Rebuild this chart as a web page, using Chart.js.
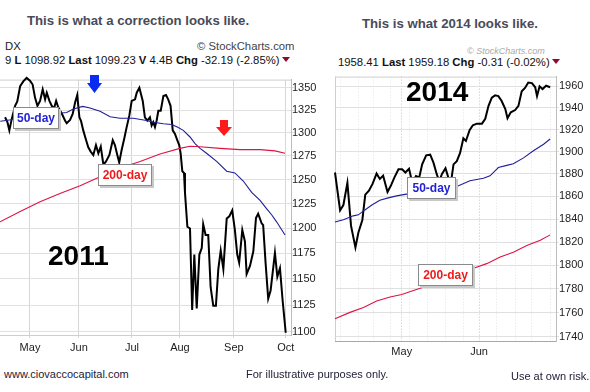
<!DOCTYPE html>
<html>
<head>
<meta charset="utf-8">
<script src="https://cdn.jsdelivr.net/npm/chart.js@4.4.1/dist/chart.umd.min.js"></script>
<style>
body { margin: 0; background: #fff; width: 590px; height: 392px; overflow: hidden; position: relative; font-family: "Liberation Sans", Arial, sans-serif; }
canvas { position: absolute; }
.abs { position: absolute; white-space: nowrap; }
.title { font-weight: bold; font-size: 13.2px; line-height: 13px; color: #4a4a58; }
.hdr { font-size: 11.3px; line-height: 12px; color: #111; }
.tri { display: inline-block; width: 0; height: 0; border-left: 4px solid transparent; border-right: 4px solid transparent; border-top: 5px solid #8c0a30; vertical-align: 2px; margin-left: 2px; }
.tag { position: absolute; background: #fff; border: 1px solid #8a8a8a; box-shadow: 2px 2px 0 #c8c8c8; font: bold 12px "Liberation Sans", Arial, sans-serif; text-align: center; box-sizing: border-box; line-height: 20px; }
.year { font: bold 28px "Liberation Sans", Arial, sans-serif; line-height: 28px; color: #000; }
.foot { font-size: 11px; line-height: 12px; color: #22223a; }
</style>
</head>
<body>
<canvas id="c2011" width="325" height="285" style="left:0;top:75px"></canvas>
<canvas id="c2014" width="260" height="300" style="left:330px;top:70px"></canvas>

<div class="abs title" style="left:27px;top:14px">This is what a correction looks like.</div>
<div class="abs title" style="left:362px;top:17px">This is what 2014 looks like.</div>

<div class="abs hdr" style="left:5px;top:40px;color:#222">DX</div>
<div class="abs hdr" style="left:197px;top:40px;color:#444">&copy; StockCharts.com</div>
<div class="abs hdr" style="left:5px;top:54px">9 <b>L</b> 1098.92 <b>Last</b> 1099.23 <b>V</b> 4.4B <b>Chg</b> -32.19 (-2.85%)<span class="tri"></span></div>

<div class="abs" style="left:467px;top:46px;font:italic 9px 'Liberation Sans',Arial,sans-serif;color:#aaa">&copy; StockCharts.com</div>
<div class="abs hdr" style="left:338px;top:56px">1958.41 <b>Last</b> 1959.18 <b>Chg</b> -0.31 (-0.02%)<span class="tri"></span></div>

<div class="abs year" style="left:48px;top:242px">2011</div>
<div class="abs year" style="left:406px;top:78px">2014</div>

<div class="tag" style="left:13px;top:107px;width:46px;height:22px;color:#2323d6">50-day</div>
<div class="tag" style="left:98px;top:164px;width:54px;height:22px;color:#f01a1a">200-day</div>
<div class="tag" style="left:407px;top:177px;width:49px;height:22px;color:#2323d6">50-day</div>
<div class="tag" style="left:418px;top:264px;width:55px;height:22px;color:#f01a1a">200-day</div>

<svg class="abs" style="left:87px;top:75px" width="16" height="19"><polygon points="3,0 12,0 12,8 15,8 7.5,18 0,8 3,8" fill="#0a2cf0"/></svg>
<svg class="abs" style="left:216px;top:120px" width="17" height="17"><polygon points="4,0 12,0 12,7 16,7 8,16 0,7 4,7" fill="#ff1a1a"/></svg>

<div class="abs foot" style="left:4px;top:368px">www.ciovaccocapital.com</div>
<div class="abs foot" style="left:246px;top:368px">For illustrative purposes only.</div>
<div class="abs foot" style="left:511px;top:370px">Use at own risk.</div>

<script>
// ---- 2011 panel (S&P 500, mid Apr - Sep 2011), x = trading days from first visible bar
var spxDays2011 = [0,1.0,1.8,2.8,4.2,5.1,6.3,7.6,9.0,10.4,11.5,12.5,13.5,14.6,15.7,16.7,17.4,18.5,19.5,20.4,
  21.3,22.2,23.6,25.0,25.7,27.1,28.2,29.2,30.1,31.0,31.7,32.6,33.8,34.7,35.7,36.8,37.9,38.9,39.9,41.0,
  42.1,43.5,44.9,45.8,46.8,47.6,48.6,49.7,50.7,51.8,52.8,54.2,54.9,56.0,57.4,58.3,59.3,60.4,61.1,61.8,
  62.5,63.2,63.9,64.9,66.0,67.1,68.0,69.0,69.9,70.8,71.8,72.6,73.2,73.9,74.6,75.0,76.0,77.1,78.0,78.9,
  79.9,81.0,82.0,82.6,83.6,84.7,85.7,86.8,87.9,88.9,89.9,91.0,92.4,93.5,94.7,95.8,96.8,97.6,98.9,100.0,
  100.7,102.1,103.5,104.6,105.5,107.0,107.6,108.6,109.7,110.7,111.8,112.5,113.5,114.6,115.7,117.0];
var spx2011 = [1317.0,1311.6,1302.6,1315.2,1329.7,1334.5,1351.8,1357.3,1361.2,1358.1,
  1353.7,1338.9,1329.7,1335.2,1348.1,1337.0,1344.4,1335.2,1329.7,1326.8,
  1335.2,1327.9,1321.4,1313.4,1310.5,1314.1,1320.6,1333.4,1341.8,1317.0,
  1312.7,1302.6,1291.9,1284.2,1279.6,1276.0,1286.6,1277.8,1284.9,1265.6,
  1269.1,1276.0,1291.9,1286.6,1276.0,1268.1,1281.3,1293.7,1306.2,1318.8,
  1335.2,1337.0,1344.4,1350.0,1335.2,1317.0,1313.4,1317.0,1308.0,1311.6,
  1306.2,1313.4,1324.2,1324.2,1340.7,1341.8,1337.0,1329.7,1302.6,1299.1,
  1291.9,1286.6,1277.8,1258.7,1256.9,1236.5,1201.4,1199.7,1120.3,1173.7,
  1121.9,1173.7,1180.1,1204.1,1193.2,1193.2,1142.0,1124.3,1124.3,1159.4,
  1177.6,1159.4,1209.7,1212.0,1218.0,1198.2,1173.7,1165.7,1198.2,1186.7,
  1154.6,1162.5,1176.9,1210.3,1214.6,1204.7,1203.1,1165.7,1131.1,1138.9,
  1160.9,1175.3,1152.0,1160.3,1129.6,1099.2];
var ma50Days2011 = [-2,22.6,25.7,28.5,32.4,35.4,39.6,43.8,47.9,53.5,59.0,61.8,66.0,69.5,71.8,
  74.3,77.1,79.2,81.3,84.0,88.2,92.4,95.8,99.3,102.8,106.3,109.0,111.2,113.2,116.7];
var ma50_2011 = [1312.7,1321.4,1322.3,1326.1,1329.1,1327.2,1323.6,1317.6,1316.0,1316.0,1313.4,1311.6,1309.8,1309.0,1306.2,
  1302.6,1295.4,1288.3,1283.1,1277.8,1269.1,1258.7,1256.9,1248.4,1236.5,1228.2,1219.9,1213.3,1206.4,1193.2];
var ma200Days2011 = [-2.1,6.3,14.6,22.9,31.3,39.6,47.9,56.3,64.6,72.9,77.1,81.3,89.6,97.9,106.3,112.5,116.7];
var ma200_2011 = [1206.4,1216.9,1226.9,1235.5,1243.5,1252.8,1262.1,1269.1,1277.1,1283.1,1285.3,1284.8,1283.1,1281.7,1281.7,1280.4,1277.8];
var months2011 = ['May','Jun','Jul','Aug','Sep','Oct'];
var monthDays2011 = [10.4,30.8,52.9,72.9,95.4,117];
var priceTicks2011 = [1100,1125,1150,1175,1200,1225,1250,1275,1300,1325,1350];

// ---- 2014 panel (S&P 500, Apr - Jun 2014)
var spxDays2014 = [0,1.4,2.3,3.4,4.4,5.6,6.4,7.5,8.3,9.3,10.3,11.4,12.3,13.2,14.4,15.3,16.3,17.4,18.4,19.3,
  20.3,21.2,22.2,23.1,23.9,25.0,26.1,27.0,27.9,28.6,29.3,30.3,31.2,31.8,32.5,33.4,34.3,35.2,35.9,36.9,
  37.8,38.9,40.3,41.2,42.1,43.0,43.9,44.8,45.7,46.7,47.3,48.2,49.4,50.3,51.2,52.1,53.0,54.0,54.9,55.4,
  56.1,56.9,57.9,59.0];
var spx2014 = [1881.3,1847.8,1852.4,1872.0,1834.1,1815.5,1828.2,1839.3,1861.6,1865.1,
  1871.1,1880.3,1875.5,1878.5,1863.9,1869.4,1876.9,1884.2,1884.2,1881.3,
  1884.6,1872.0,1878.1,1876.9,1888.6,1896.7,1897.3,1890.1,1879.8,1873.5,
  1879.8,1885.1,1875.5,1872.6,1888.6,1891.5,1898.9,1912.1,1909.7,1919.5,
  1924.0,1925.5,1925.5,1930.0,1941.9,1949.4,1951.6,1950.9,1946.4,1938.9,
  1930.5,1935.9,1938.0,1941.9,1955.5,1958.5,1963.6,1963.0,1959.1,1950.9,
  1960.0,1957.5,1960.6,1959.2];
var ma50Days2014 = [0,2.3,5.0,6.4,8.2,10.1,12.3,14.6,16.9,19.2,33.4,37.0,40.7,42.5,44.8,47.1,48.9,51.7,54.4,57.2,59.0];
var ma50_2014 = [1837.6,1839.5,1842.9,1843.8,1848.1,1852.4,1856.7,1858.7,1860.5,1861.8,1868.8,1874.0,1876.1,1878.3,1885.7,1887.7,1889.2,1894.4,1900.9,1906.8,1911.5];
var ma200Days2014 = [0,4.1,7.8,11.4,15.1,18.3,21.5,24.2,37.8,41.6,45.3,48.9,52.6,56.3,59.0];
var ma200_2014 = [1754.8,1760.2,1764.3,1769.8,1773.1,1775.3,1778.6,1781.3,1797.3,1801.5,1807.1,1811.3,1817.0,1821.7,1826.3];
var months2014 = ['May','Jun'];
var monthDays2014 = [18.3,39.5];
var weekDays2014 = [0,1.4,6.4,10.5,15.3,20.4,25.4,30.2,35.2,44.4,49.4,54,59];
var priceTicks2014 = [1740,1760,1780,1800,1820,1840,1860,1880,1900,1920,1940,1960];

var tickFont = { family: '"Liberation Sans", Arial, sans-serif', size: 11 };

function pts(xs, ys) {
  return xs.map(function (x, i) { return { x: x, y: ys[i] }; });
}

function lineSet(xs, ys, color, width) {
  return { data: pts(xs, ys), borderColor: color, borderWidth: width, pointRadius: 0, tension: 0, clip: false };
}

// thin outline on top (and optionally left) of the plot area
var frame = {
  id: 'frame',
  beforeDatasetsDraw: function (chart, args, opts) {
    var a = chart.chartArea, c = chart.ctx;
    c.save();
    c.strokeStyle = opts.color || '#ccc';
    c.lineWidth = 1;
    c.beginPath();
    c.moveTo(a.left, a.top + 0.5);
    c.lineTo(a.right, a.top + 0.5);
    if (opts.left) {
      c.moveTo(a.left + 0.5, a.top);
      c.lineTo(a.left + 0.5, a.bottom);
    }
    c.stroke();
    c.restore();
  }
};

new Chart(document.getElementById('c2011'), {
  type: 'line',
  data: {
    datasets: [
      lineSet(ma200Days2011, ma200_2011, '#dc1443', 1.1),
      lineSet(ma50Days2011, ma50_2011, '#1f1f99', 1.1),
      lineSet(spxDays2011, spx2011, '#000', 2)
    ]
  },
  options: {
    responsive: false,
    animation: false,
    devicePixelRatio: 1,
    layout: { padding: 0 },
    plugins: { legend: { display: false }, tooltip: { enabled: false }, frame: { color: '#cfcfcf', left: false } },
    scales: {
      x: {
        type: 'linear', min: -2.1, max: 119.2,
        afterBuildTicks: function (ax) { ax.ticks = monthDays2011.map(function (v) { return { value: v }; }); },
        afterFit: function (ax) { ax.height = 25; },
        ticks: { autoSkip: false, maxRotation: 0, font: tickFont, color: '#222', padding: 3,
          callback: function (v, i) { return months2011[i]; } },
        grid: { color: '#d6d6d6', tickLength: 3 },
        border: { color: '#cfcfcf' }
      },
      y: {
        type: 'logarithmic', position: 'right', min: 1097.1, max: 1359.3,
        afterBuildTicks: function (ax) { ax.ticks = priceTicks2011.map(function (v) { return { value: v }; }); },
        afterFit: function (ax) { ax.width = 34; },
        ticks: { font: tickFont, color: '#222', padding: -2, callback: function (v) { return String(v); } },
        grid: { color: '#e0e0e0', tickLength: 3 },
        border: { color: '#bdbdbd' }
      }
    }
  },
  plugins: [frame]
});

var gridDays2014 = weekDays2014.concat(monthDays2014).sort(function (a, b) { return a - b; });

new Chart(document.getElementById('c2014'), {
  type: 'line',
  data: {
    datasets: [
      lineSet(ma200Days2014, ma200_2014, '#dc1443', 1.1),
      lineSet(ma50Days2014, ma50_2014, '#1f1f99', 1.1),
      lineSet(spxDays2014, spx2014, '#000', 2)
    ]
  },
  options: {
    responsive: false,
    animation: false,
    devicePixelRatio: 1,
    layout: { padding: { left: 5, right: 0, top: 0, bottom: 0 } },
    plugins: { legend: { display: false }, tooltip: { enabled: false }, frame: { color: '#cfcfcf', left: true } },
    scales: {
      x: {
        type: 'linear', min: 0, max: 60.6,
        afterBuildTicks: function (ax) { ax.ticks = gridDays2014.map(function (v) { return { value: v }; }); },
        afterFit: function (ax) { ax.height = 29; },
        ticks: { autoSkip: false, maxRotation: 0, font: tickFont, color: '#222', padding: 4,
          callback: function (v) { var i = monthDays2014.indexOf(v); return i >= 0 ? months2014[i] : ''; } },
        grid: { drawTicks: false,
          color: function (ctx) { return ctx.tick && monthDays2014.indexOf(ctx.tick.value) >= 0 ? '#c2c2c2' : '#e3e3e3'; } },
        border: { color: '#a8a8a8', dash: [1, 2] }
      },
      y: {
        type: 'logarithmic', position: 'right', min: 1736.4, max: 1969.1,
        afterBuildTicks: function (ax) { ax.ticks = priceTicks2014.map(function (v) { return { value: v }; }); },
        afterFit: function (ax) { ax.width = 34; },
        ticks: { font: tickFont, color: '#222', padding: 0, callback: function (v) { return String(v); } },
        grid: { color: '#e0e0e0', tickLength: 3 },
        border: { color: '#bdbdbd' }
      }
    }
  },
  plugins: [frame]
});
</script>
</body>
</html>
